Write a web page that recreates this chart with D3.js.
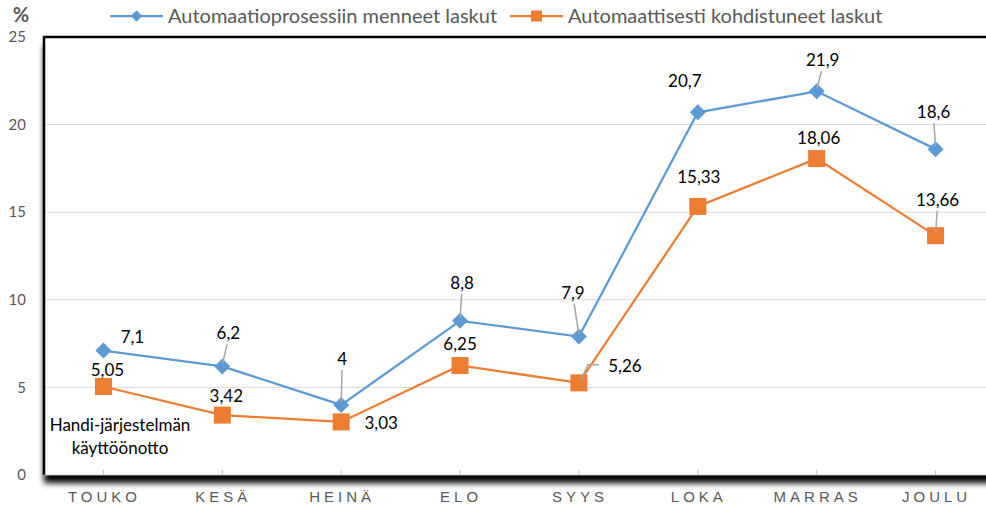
<!DOCTYPE html>
<html>
<head>
<meta charset="utf-8">
<script src="https://cdn.jsdelivr.net/npm/d3@7"></script>
<style>
  body { margin: 0; background: #fff; }
  svg { display: block; font-family: Lato, "Open Sans", sans-serif; }
</style>
</head>
<body>
<div id="chart"></div>
<script>
// data
const months = ["TOUKO", "KESÄ", "HEINÄ", "ELO", "SYYS", "LOKA", "MARRAS", "JOULU"];
const processed = [7.1, 6.2, 4, 8.8, 7.9, 20.7, 21.9, 18.6];
const allocated = [5.05, 3.42, 3.03, 6.25, 5.26, 15.33, 18.06, 13.66];
const yTicks = [0, 5, 10, 15, 20, 25];
const seriesNames = ["Automaatioprosessiin menneet laskut", "Automaattisesti kohdistuneet laskut"];
const annotation = ["Handi-järjestelmän", "käyttöönotto"];

// label placement: [dx, dy, leader] relative to the point
const blueLabelPos = [[29, -14, 0], [6, -33, 1], [1, -46, 1], [2, -38, 1], [-6, -44, 1], [-13, -31, 0], [6, -31, 1], [-2, -37, 1]];
const orangeLabelPos = [[4, -16, 0], [4, -19, 0], [40, 1, 0], [0, -21, 0], [46, -17, 2], [1, -29, 0], [2, -21, 0], [2, -36, 1]];

const W = 986, H = 508;
const plot = { left: 44, top: 37, right: 995, bottom: 475 };
const blue = "#5B9BD5", orange = "#ED7D31", grey = "#595959";

const svg = d3.select("#chart").append("svg")
    .attr("width", W)
    .attr("height", H);

const defs = svg.append("defs");
const shadow = defs.append("filter")
    .attr("id", "shadow")
    .attr("x", "-5%").attr("y", "-5%")
    .attr("width", "110%").attr("height", "115%");
shadow.append("feDropShadow")
    .attr("dx", 0).attr("dy", 8)
    .attr("stdDeviation", 3)
    .attr("flood-color", "#000")
    .attr("flood-opacity", 1);

const x = d3.scaleBand()
    .domain(months)
    .range([plot.left, plot.right])
    .padding(0);
const cx = d => x(d) + x.bandwidth() / 2;

const y = d3.scaleLinear()
    .domain([0, 25])
    .range([plot.bottom, plot.top]);

// plot area with shadow
svg.append("rect")
    .attr("x", plot.left)
    .attr("y", plot.top)
    .attr("width", plot.right - plot.left + 20)
    .attr("height", plot.bottom - plot.top)
    .attr("fill", "#fff")
    .attr("filter", "url(#shadow)");

// gridlines
svg.append("g")
    .selectAll("line")
    .data(yTicks.filter(t => t > 0 && t < 25))
    .join("line")
    .attr("x1", plot.left)
    .attr("x2", W)
    .attr("y1", d => y(d))
    .attr("y2", d => y(d))
    .attr("stroke", "#d9d9d9")
    .attr("stroke-width", 1);

// plot border (left + top)
svg.append("path")
    .attr("d", `M${plot.left},${plot.bottom}V${plot.top}H${W}`)
    .attr("fill", "none")
    .attr("stroke", "#000")
    .attr("stroke-width", 2.5);

// x axis
const xAxis = svg.append("g")
    .attr("transform", `translate(0,${plot.bottom})`)
    .call(d3.axisBottom(x).tickSize(-5).tickPadding(16));
xAxis.select(".domain").attr("stroke", "#bfbfbf").attr("d", `M${plot.left},0H${W}`);
xAxis.selectAll(".tick line").attr("stroke", "#bfbfbf");
xAxis.selectAll(".tick text")
    .attr("fill", grey)
    .style("font-size", "15px")
    .style("letter-spacing", "4px")
    .attr("dx", "1px");

// y axis labels
svg.append("g")
    .selectAll("text")
    .data(yTicks)
    .join("text")
    .attr("x", 26)
    .attr("y", d => y(d))
    .attr("dy", "0.35em")
    .attr("text-anchor", "end")
    .attr("fill", grey)
    .style("font-size", "15px")
    .text(d => d);

svg.append("text")
    .attr("x", 21)
    .attr("y", 22)
    .attr("text-anchor", "middle")
    .attr("fill", grey)
    .style("font-size", "20px")
    .style("font-weight", "bold")
    .text("%");

// lines
const line = d3.line()
    .x((d, i) => cx(months[i]))
    .y(d => y(d));

svg.append("path")
    .datum(processed)
    .attr("fill", "none")
    .attr("stroke", blue)
    .attr("stroke-width", 2.25)
    .attr("d", line);

svg.append("path")
    .datum(allocated)
    .attr("fill", "none")
    .attr("stroke", orange)
    .attr("stroke-width", 2.25)
    .attr("d", line);

// markers
svg.append("g")
    .selectAll("path")
    .data(processed)
    .join("path")
    .attr("d", d3.symbol().type(d3.symbolSquare).size(128))
    .attr("transform", (d, i) => `translate(${cx(months[i])},${y(d)}) rotate(45)`)
    .attr("fill", blue);

svg.append("g")
    .selectAll("rect")
    .data(allocated)
    .join("rect")
    .attr("x", (d, i) => cx(months[i]) - 8.5)
    .attr("y", d => y(d) - 8.5)
    .attr("width", 17)
    .attr("height", 17)
    .attr("fill", orange);

// data labels with leader lines
function drawLabels(values, pos) {
    const g = svg.append("g");
    values.forEach((v, i) => {
        const px = cx(months[i]), py = y(v);
        const [dx, dy, leader] = pos[i];
        const lx = px + dx, ly = py + dy;
        if (leader === 1) {
            g.append("line")
                .attr("x1", px + dx * 0.05).attr("y1", py - 3)
                .attr("x2", px + dx * 0.8).attr("y2", ly + 11)
                .attr("stroke", "#a6a6a6")
                .attr("stroke-width", 1.5);
        } else if (leader === 2) {
            g.append("path")
                .attr("d", `M${px + 2},${py - 3}L${px + 9},${py - 18}H${px + 20}`)
                .attr("fill", "none")
                .attr("stroke", "#a6a6a6")
                .attr("stroke-width", 1.5);
        }
        g.append("text")
            .attr("x", lx)
            .attr("y", ly)
            .attr("dy", "0.35em")
            .attr("text-anchor", "middle")
            .attr("fill", "#000")
            .style("font-size", "17px")
            .text(String(v).replace(".", ","));
    });
}
drawLabels(processed, blueLabelPos);
drawLabels(allocated, orangeLabelPos);

// annotation
svg.append("g")
    .selectAll("text")
    .data(annotation)
    .join("text")
    .attr("x", 120)
    .attr("y", (d, i) => 425 + i * 23)
    .attr("dy", "0.35em")
    .attr("text-anchor", "middle")
    .attr("fill", "#000")
    .style("font-size", "17px")
    .text(d => d);

// legend
const legend = svg.append("g");
const legendItems = [
    { name: seriesNames[0], color: blue, x: 110, marker: "diamond" },
    { name: seriesNames[1], color: orange, x: 510, marker: "square" }
];
legendItems.forEach(it => {
    legend.append("line")
        .attr("x1", it.x).attr("x2", it.x + 53)
        .attr("y1", 16).attr("y2", 16)
        .attr("stroke", it.color)
        .attr("stroke-width", 2.25);
    if (it.marker === "diamond") {
        legend.append("path")
            .attr("d", d3.symbol().type(d3.symbolSquare).size(64))
            .attr("transform", `translate(${it.x + 26.5},16) rotate(45)`)
            .attr("fill", it.color);
    } else {
        legend.append("rect")
            .attr("x", it.x + 21).attr("y", 10.5)
            .attr("width", 11).attr("height", 11)
            .attr("fill", it.color);
    }
    legend.append("text")
        .attr("x", it.x + 58)
        .attr("y", 16)
        .attr("dy", "0.35em")
        .attr("fill", grey)
        .style("font-size", "20px")
        .text(it.name);
});
</script>
</body>
</html>
